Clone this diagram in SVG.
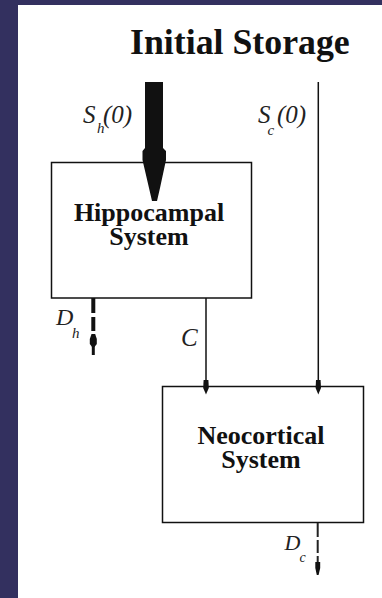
<svg xmlns="http://www.w3.org/2000/svg" width="382" height="598" viewBox="0 0 382 598">
<style>
.box{fill:#ffffff;stroke:#111;stroke-width:1.5}
.lbl{font-family:"Liberation Serif","Times New Roman",serif;font-weight:bold;font-size:26px;fill:#111;text-anchor:middle}
.it{font-family:"Liberation Serif","Times New Roman",serif;font-style:italic;fill:#222}
.ln{stroke:#111;stroke-width:1.5;fill:none}
.hd{fill:#111;stroke:none}
</style>
<rect x="0" y="0" width="382" height="598" fill="#33305f"/>
<rect x="18" y="5" width="364" height="593" fill="#ffffff"/>
<g id="title">
<text x="130" y="54" font-family="'Liberation Serif','Times New Roman',serif" font-weight="bold" font-size="35.8" fill="#111">Initial Storage</text>
</g>
<g id="hippocampal">
<rect class="box" x="51.5" y="162.5" width="200" height="135.5"/>
<text class="lbl" x="149" y="220.5">Hippocampal</text>
<text class="lbl" x="149" y="245">System</text>
</g>
<g id="neocortical">
<rect class="box" x="162.5" y="386.5" width="201" height="136"/>
<text class="lbl" x="261" y="443.5">Neocortical</text>
<text class="lbl" x="261" y="468">System</text>
</g>
<g id="connectors">
<polygon class="hd" points="145,82 163,82 163,148 166,151 166,160 160,188 157,201 152,201 149,188 142.5,160 142.5,151 145,148"/>
<line class="ln" x1="318.3" y1="82" x2="318.3" y2="382"/>
<polygon class="hd" points="316,380 320.6,380 321,388 318.3,394.5 315.6,388"/>
<line class="ln" x1="206" y1="298" x2="206" y2="382"/>
<polygon class="hd" points="203.6,380 208.4,380 208.8,388 206,394.5 203.2,388"/>
<line x1="93.3" y1="298" x2="93.3" y2="331" stroke="#111" stroke-width="4" stroke-dasharray="15,4"/>
<polygon class="hd" points="91.5,334 95.2,334 96.8,339 96.8,344 94.5,347 92.1,347 89.8,344 89.8,339"/>
<line x1="93.3" y1="346" x2="93.3" y2="355" stroke="#111" stroke-width="3"/>
<line x1="317.7" y1="523" x2="317.7" y2="562" stroke="#222" stroke-width="2" stroke-dasharray="14,3,13,3"/>
<polygon class="hd" points="315.3,562 320.2,562 320.2,568 318.6,575 316.8,575 315.3,568"/>
</g>
<g id="labels">
<text class="it" x="83" y="122.5" font-size="25">S</text>
<text class="it" x="97" y="133" font-size="15">h</text>
<text class="it" x="103" y="122.5" font-size="25">(0)</text>
<text class="it" x="258" y="123.3" font-size="25">S</text>
<text class="it" x="267.5" y="135" font-size="15">c</text>
<text class="it" x="277" y="123.3" font-size="25">(0)</text>
<text class="it" x="181" y="345.7" font-size="25">C</text>
<text class="it" x="56" y="325" font-size="24">D</text>
<text class="it" x="72" y="338" font-size="15">h</text>
<text class="it" x="284.5" y="550" font-size="22" fill="#444">D</text>
<text class="it" x="299.5" y="562" font-size="14" fill="#555">c</text>
</g>
</svg>
